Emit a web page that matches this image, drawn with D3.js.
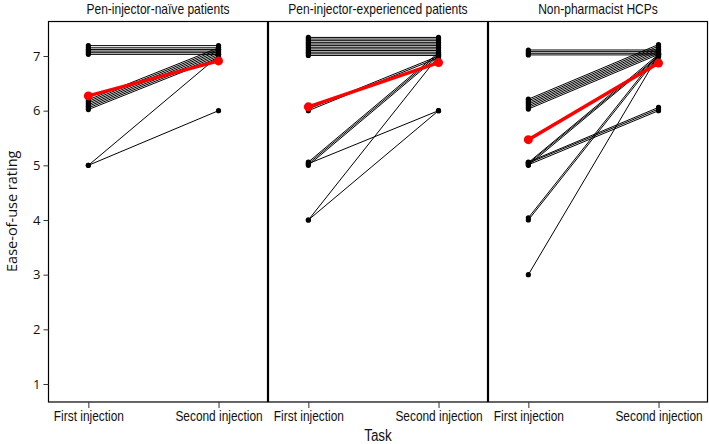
<!DOCTYPE html>
<html><head><meta charset="utf-8">
<script src="https://cdn.jsdelivr.net/npm/d3@7"></script>
<style>
html,body{margin:0;padding:0;background:#fff;}
svg{display:block;}
.narrow{font-family:"Liberation Sans Narrow","Liberation Sans",Arial,sans-serif;}
.open{font-family:"Open Sans","Noto Sans",sans-serif;}
</style>
</head><body>
<svg id="chart" width="709" height="444"></svg>
<script>
// ---- data ----
const groups = ["Pen-injector-naïve patients","Pen-injector-experienced patients","Non-pharmacist HCPs"];
const taskLabels = ["First injection","Second injection"];
const yTicks = [1,2,3,4,5,6,7];

// individual ratings (slightly offset per participant, as drawn)
const naiveFirst  = [7.03,7.06,7.09,7.12,7.15,7.19, 6.02,6.05,6.08,6.11,6.14,6.17,6.20, 5.00,5.00];
const naiveSecond = [7.03,7.06,7.09,7.12,7.15,7.19, 6.97,7.00,7.03,7.06,7.09,7.12,7.15, 7.00,6.00];

const expFirst  = [7.01,7.04,7.07,7.10,7.13,7.16,7.19,7.22,7.25,7.28,7.31,7.34, 6.00,6.03, 5.00,5.03,5.06, 5.03, 4.00,4.00];
const expSecond = [7.01,7.04,7.07,7.10,7.13,7.16,7.19,7.22,7.25,7.28,7.31,7.34, 6.97,7.00, 7.00,7.03,7.06, 6.00, 7.00,6.00];

const hcpFirst  = [7.02,7.05,7.08,7.11, 6.03,6.06,6.09,6.12,6.15,6.18,6.21, 5.00,5.03,5.05, 5.01,5.04,5.06, 4.00,4.04, 3.00];
const hcpSecond = [7.02,7.05,7.08,7.11, 7.03,7.06,7.09,7.12,7.15,7.18,7.21, 6.98,7.00,7.03, 6.00,6.03,6.06, 7.00,7.04, 7.02];

// group means
const meanFirst  = [6.27, 6.07, 5.47];
const meanSecond = [6.91, 6.88, 6.87];

const firstByGroup  = [naiveFirst, expFirst, hcpFirst];
const secondByGroup = [naiveSecond, expSecond, hcpSecond];

// ---- layout ----
const svg = d3.select("#chart");
const plotLeft = 48, plotRight = 708;
const yScale = d3.scaleLinear().domain([1,7]).range([384,56]);
const yTopVal = 7.64, yBotVal = 0.68;
const plotTop = yScale(yTopVal), plotBottom = yScale(yBotVal);

const band = d3.scaleBand().domain(groups).range([plotLeft,plotRight]).paddingInner(0).paddingOuter(0);

// condense text to mimic a narrow face
function condense(sel, factor) {
  sel.each(function() {
    const w = this.getComputedTextLength();
    d3.select(this).attr("textLength", w * factor).attr("lengthAdjust", "spacingAndGlyphs");
  });
}

groups.forEach((g, gi) => {
  const x0 = band(g), bw = band.bandwidth();
  const xScale = d3.scaleLinear().domain([-0.31, 1.38]).range([x0, x0 + bw]);
  const panel = svg.append("g");

  // frame
  panel.append("rect")
    .attr("x", x0 + 0.5).attr("y", plotTop + 0.5)
    .attr("width", bw - 1).attr("height", plotBottom - plotTop)
    .attr("fill", "none").attr("stroke", "#000").attr("stroke-width", 1.2);

  // title
  panel.append("text").attr("class","narrow")
    .attr("x", x0 + bw/2).attr("y", 14)
    .attr("text-anchor","middle").attr("font-size", 14.5).attr("fill","#111")
    .text(g).call(condense, 0.83);

  // x axis
  const xAxis = d3.axisBottom(xScale).tickValues([0,1])
    .tickFormat(i => taskLabels[i]).tickSize(6).tickPadding(3);
  const xa = panel.append("g").attr("transform", `translate(0,${plotBottom + 0.5})`).call(xAxis);
  xa.select(".domain").remove();
  xa.selectAll("line").attr("stroke","#333");
  xa.selectAll("text").attr("class","narrow").attr("font-size", 14.5).attr("fill","#111").call(condense, 0.82);

  // individual lines
  const f = firstByGroup[gi], s = secondByGroup[gi];
  const pairs = f.map((v, i) => [v, s[i]]);
  const line = d3.line().x((d, i) => xScale(i)).y(d => yScale(d));
  panel.append("g").selectAll("path").data(pairs).join("path")
    .attr("d", d => line(d)).attr("fill","none").attr("stroke","#000").attr("stroke-width", 1);
  const pts = [];
  pairs.forEach(p => { pts.push([0,p[0]]); pts.push([1,p[1]]); });
  panel.append("g").selectAll("circle").data(pts).join("circle")
    .attr("cx", d => xScale(d[0])).attr("cy", d => yScale(d[1])).attr("r", 2.6).attr("fill","#000");

  // mean line
  const m = [meanFirst[gi], meanSecond[gi]];
  panel.append("path").attr("d", line(m)).attr("fill","none").attr("stroke","#ff0000").attr("stroke-width", 3.5);
  panel.append("g").selectAll("circle").data(m).join("circle")
    .attr("cx", (d, i) => xScale(i)).attr("cy", d => yScale(d)).attr("r", 4.5).attr("fill","#ff0000");
});

// y axis
const yAxis = d3.axisLeft(yScale).tickValues(yTicks).tickFormat(d3.format("d")).tickSize(5).tickPadding(3);
const ya = svg.append("g").attr("transform", `translate(${plotLeft + 0.5},0)`).call(yAxis);
ya.select(".domain").remove();
ya.selectAll("line").attr("stroke","#333");
ya.selectAll("text").attr("class","open").attr("font-size", 13).attr("fill","#111");

// axis titles
svg.append("text").attr("class","open")
  .attr("transform", `translate(12,${(plotTop + plotBottom)/2}) rotate(-90)`)
  .attr("dy", "0.35em")
  .attr("text-anchor","middle").attr("font-size", 14.5).attr("fill","#111")
  .text("Ease-of-use rating");
svg.append("text").attr("class","narrow")
  .attr("x", (plotLeft + plotRight)/2).attr("y", 441)
  .attr("text-anchor","middle").attr("font-size", 16).attr("fill","#111")
  .text("Task").call(condense, 0.84);
</script>
</body></html>
